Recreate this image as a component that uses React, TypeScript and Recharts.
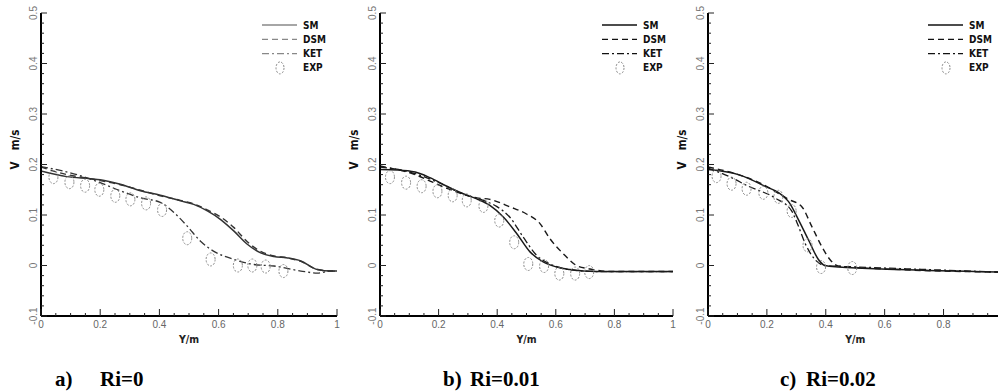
import React from "react";
import { ComposedChart, Line, XAxis, YAxis, Legend } from "recharts";

// ---- values (x = Y/m, v = V in m/s) ----
const smA = [
  { x: 0, v: 0.187 }, { x: 0.087, v: 0.176 }, { x: 0.166, v: 0.172 }, { x: 0.2, v: 0.17 },
  { x: 0.268, v: 0.161 }, { x: 0.336, v: 0.148 }, { x: 0.403, v: 0.139 }, { x: 0.471, v: 0.128 },
  { x: 0.516, v: 0.121 }, { x: 0.562, v: 0.108 }, { x: 0.607, v: 0.091 }, { x: 0.652, v: 0.068 },
  { x: 0.697, v: 0.042 }, { x: 0.742, v: 0.025 }, { x: 0.787, v: 0.018 }, { x: 0.833, v: 0.015 },
  { x: 0.878, v: 0.009 }, { x: 0.934, v: -0.008 }, { x: 0.98, v: -0.011 }, { x: 1, v: -0.011 },
];
const dsmA = [
  { x: 0, v: 0.195 }, { x: 0.087, v: 0.18 }, { x: 0.166, v: 0.172 }, { x: 0.2, v: 0.168 },
  { x: 0.268, v: 0.16 }, { x: 0.336, v: 0.149 }, { x: 0.403, v: 0.138 }, { x: 0.471, v: 0.129 },
  { x: 0.516, v: 0.122 }, { x: 0.562, v: 0.11 }, { x: 0.607, v: 0.096 }, { x: 0.652, v: 0.075 },
  { x: 0.697, v: 0.047 }, { x: 0.742, v: 0.028 }, { x: 0.787, v: 0.019 }, { x: 0.833, v: 0.015 },
  { x: 0.878, v: 0.008 }, { x: 0.934, v: -0.008 }, { x: 0.98, v: -0.011 }, { x: 1, v: -0.011 },
];
const ketA = [
  { x: 0, v: 0.196 }, { x: 0.132, v: 0.178 }, { x: 0.2, v: 0.164 }, { x: 0.268, v: 0.148 },
  { x: 0.336, v: 0.134 }, { x: 0.403, v: 0.125 }, { x: 0.449, v: 0.105 }, { x: 0.494, v: 0.078 },
  { x: 0.539, v: 0.048 }, { x: 0.584, v: 0.028 }, { x: 0.652, v: 0.012 }, { x: 0.72, v: 0.002 },
  { x: 0.787, v: -0.001 }, { x: 0.878, v: -0.011 }, { x: 0.934, v: -0.015 }, { x: 0.98, v: -0.011 },
  { x: 1, v: -0.011 },
];
const expA = [
  { x: 0.042, v: 0.175 }, { x: 0.096, v: 0.165 }, { x: 0.149, v: 0.158 }, { x: 0.197, v: 0.15 },
  { x: 0.251, v: 0.138 }, { x: 0.302, v: 0.131 }, { x: 0.355, v: 0.123 }, { x: 0.409, v: 0.11 },
  { x: 0.494, v: 0.054 }, { x: 0.573, v: 0.012 }, { x: 0.665, v: 0 }, { x: 0.714, v: 0 },
  { x: 0.759, v: -0.002 }, { x: 0.819, v: -0.011 },
];

const smB = [
  { x: 0, v: 0.19 }, { x: 0.06, v: 0.189 }, { x: 0.12, v: 0.185 }, { x: 0.17, v: 0.174 },
  { x: 0.228, v: 0.157 }, { x: 0.284, v: 0.142 }, { x: 0.33, v: 0.132 }, { x: 0.375, v: 0.119 },
  { x: 0.421, v: 0.096 }, { x: 0.467, v: 0.063 }, { x: 0.512, v: 0.027 }, { x: 0.557, v: 0.007 },
  { x: 0.603, v: -0.003 }, { x: 0.648, v: -0.008 }, { x: 0.739, v: -0.012 }, { x: 1, v: -0.012 },
];
const dsmB = [
  { x: 0, v: 0.197 }, { x: 0.06, v: 0.19 }, { x: 0.12, v: 0.18 }, { x: 0.171, v: 0.167 },
  { x: 0.228, v: 0.153 }, { x: 0.284, v: 0.141 }, { x: 0.33, v: 0.134 }, { x: 0.375, v: 0.131 },
  { x: 0.444, v: 0.116 }, { x: 0.5, v: 0.102 }, { x: 0.546, v: 0.083 }, { x: 0.58, v: 0.053 },
  { x: 0.626, v: 0.023 }, { x: 0.671, v: 0 }, { x: 0.717, v: -0.007 }, { x: 0.796, v: -0.012 },
  { x: 1, v: -0.012 },
];
const ketB = [
  { x: 0, v: 0.195 }, { x: 0.102, v: 0.185 }, { x: 0.193, v: 0.166 }, { x: 0.284, v: 0.142 },
  { x: 0.353, v: 0.129 }, { x: 0.398, v: 0.117 }, { x: 0.444, v: 0.095 }, { x: 0.489, v: 0.056 },
  { x: 0.535, v: 0.02 }, { x: 0.58, v: 0.003 }, { x: 0.626, v: -0.006 }, { x: 0.671, v: -0.01 },
  { x: 0.75, v: -0.012 }, { x: 1, v: -0.012 },
];
const expB = [
  { x: 0.034, v: 0.175 }, { x: 0.089, v: 0.164 }, { x: 0.142, v: 0.157 }, { x: 0.196, v: 0.147 },
  { x: 0.248, v: 0.139 }, { x: 0.296, v: 0.129 }, { x: 0.353, v: 0.118 }, { x: 0.407, v: 0.089 },
  { x: 0.458, v: 0.046 }, { x: 0.506, v: 0.003 }, { x: 0.56, v: -0.001 }, { x: 0.612, v: -0.016 },
  { x: 0.666, v: -0.016 }, { x: 0.714, v: -0.013 },
];

const smC = [
  { x: 0, v: 0.19 }, { x: 0.103, v: 0.18 }, { x: 0.182, v: 0.16 }, { x: 0.273, v: 0.127 },
  { x: 0.307, v: 0.091 }, { x: 0.341, v: 0.051 }, { x: 0.375, v: 0.012 }, { x: 0.397, v: 0 },
  { x: 0.442, v: -0.003 }, { x: 0.646, v: -0.008 }, { x: 0.985, v: -0.013 },
];
const dsmC = [
  { x: 0, v: 0.195 }, { x: 0.103, v: 0.18 }, { x: 0.182, v: 0.162 }, { x: 0.273, v: 0.131 },
  { x: 0.318, v: 0.117 }, { x: 0.352, v: 0.078 }, { x: 0.386, v: 0.038 }, { x: 0.414, v: 0.012 },
  { x: 0.442, v: -0.001 }, { x: 0.646, v: -0.008 }, { x: 0.985, v: -0.013 },
];
const ketC = [
  { x: 0, v: 0.193 }, { x: 0.08, v: 0.174 }, { x: 0.137, v: 0.157 }, { x: 0.227, v: 0.134 },
  { x: 0.284, v: 0.108 }, { x: 0.307, v: 0.078 }, { x: 0.329, v: 0.045 }, { x: 0.363, v: 0.012 },
  { x: 0.397, v: 0 }, { x: 0.51, v: -0.003 }, { x: 0.65, v: -0.006 }, { x: 0.985, v: -0.013 },
];
const expC = [
  { x: 0.029, v: 0.177 }, { x: 0.08, v: 0.162 }, { x: 0.131, v: 0.152 }, { x: 0.188, v: 0.144 },
  { x: 0.239, v: 0.136 }, { x: 0.284, v: 0.108 }, { x: 0.338, v: 0.04 }, { x: 0.384, v: -0.003 },
  { x: 0.49, v: -0.005 },
];

const yTicks = [
  -0.1, -0.08, -0.06, -0.04, -0.02, 0, 0.02, 0.04, 0.06, 0.08, 0.1, 0.12, 0.14, 0.16, 0.18, 0.2,
  0.22, 0.24, 0.26, 0.28, 0.3, 0.32, 0.34, 0.36, 0.38, 0.4, 0.42, 0.44, 0.46, 0.48, 0.5,
];
const yMajor = [-0.1, 0, 0.1, 0.2, 0.3, 0.4, 0.5];
const xTicks = [
  0, 0.05, 0.1, 0.15, 0.2, 0.25, 0.3, 0.35, 0.4, 0.45, 0.5, 0.55, 0.6, 0.65, 0.7, 0.75, 0.8,
  0.85, 0.9, 0.95, 1,
];
const xMajor = [0, 0.2, 0.4, 0.6, 0.8, 1];
const seriesNames = ["SM", "DSM", "KET", "EXP"];

const KET_DASH = "7 3 2 3";
const DSM_DASH = "6 4";
const tickFont = "'Liberation Sans', Arial, sans-serif";
const narrowFont = "'Liberation Sans Narrow', 'DejaVu Sans Condensed', sans-serif";

const isMajor = (list: number[], v: number) => list.some((m) => Math.abs(m - v) < 1e-6);
const fmt = (v: number) => String(Math.round(v * 10) / 10);

function YTick(props: any) {
  const { x, y, payload } = props;
  const major = isMajor(yMajor, payload.value);
  const lx = x - 8;
  return (
    <g>
      <line x1={x} x2={x + (major ? 6 : 3)} y1={y} y2={y} stroke="#222" strokeWidth={1} />
      {major && (
        <text
          x={lx}
          y={y}
          transform={`rotate(-90 ${lx} ${y})`}
          textAnchor="middle"
          dominantBaseline="central"
          fontSize={10}
          fontFamily={tickFont}
          fill="#777"
        >
          {fmt(payload.value)}
        </text>
      )}
    </g>
  );
}

function XTick(props: any) {
  const { x, y, payload } = props;
  const major = isMajor(xMajor, payload.value);
  return (
    <g>
      <line x1={x} x2={x} y1={y} y2={y - (major ? 7 : 3)} stroke="#222" strokeWidth={1} />
      {major && (
        <text
          x={x}
          y={y + 8}
          textAnchor="middle"
          dominantBaseline="central"
          fontSize={10}
          fontFamily={tickFont}
          fill="#666"
        >
          {fmt(payload.value)}
        </text>
      )}
    </g>
  );
}

function ExpDot(props: any) {
  const { cx, cy, index } = props;
  if (cx == null || cy == null) return <g key={index} />;
  return (
    <ellipse
      key={index}
      cx={cx}
      cy={cy}
      rx={4.5}
      ry={6.5}
      fill="none"
      stroke="#8a8a8a"
      strokeWidth={1}
      strokeDasharray="2 1.5"
    />
  );
}

function LegendBox({ ink }: { ink: string }) {
  const dashes = [undefined, DSM_DASH, KET_DASH];
  return (
    <svg width={80} height={60}>
      {seriesNames.map((name, i) => {
        const y = 7 + i * 14.3;
        return (
          <g key={name}>
            {i < 3 ? (
              <line x1={0} x2={35} y1={y} y2={y} stroke={ink} strokeWidth={1.3} strokeDasharray={dashes[i]} />
            ) : (
              <ellipse cx={18} cy={y} rx={4} ry={6} fill="none" stroke="#8a8a8a" strokeDasharray="2 1.5" />
            )}
            <text
              x={41}
              y={y}
              dominantBaseline="central"
              fontSize={10}
              fontWeight="bold"
              fontFamily={narrowFont}
              fill="#111"
            >
              {name}
            </text>
          </g>
        );
      })}
    </svg>
  );
}

type Panel = {
  left: number;
  width: number;
  marginLeft: number;
  marginRight: number;
  xMax: number;
  legendLeft: number;
  ink: string;
  legendInk: string;
  sm: { x: number; v: number }[];
  dsm: { x: number; v: number }[];
  ket: { x: number; v: number }[];
  exp: { x: number; v: number }[];
};

const panels: Panel[] = [
  { left: 0, width: 340, marginLeft: 11, marginRight: 3, xMax: 1, legendLeft: 262, ink: "#333", legendInk: "#888", sm: smA, dsm: dsmA, ket: ketA, exp: expA },
  { left: 340, width: 336, marginLeft: 10, marginRight: 3, xMax: 1, legendLeft: 262, ink: "#1a1a1a", legendInk: "#111", sm: smB, dsm: dsmB, ket: ketB, exp: expB },
  { left: 675, width: 323, marginLeft: 3, marginRight: 0, xMax: 0.985, legendLeft: 253, ink: "#1a1a1a", legendInk: "#111", sm: smC, dsm: dsmC, ket: ketC, exp: expC },
];

function PanelChart({ p }: { p: Panel }) {
  const ticks = xTicks.filter((t) => t <= p.xMax + 1e-9);
  return (
    <ComposedChart
      width={p.width}
      height={350}
      margin={{ top: 13, right: p.marginRight, bottom: 4, left: p.marginLeft }}
    >
      <XAxis
        type="number"
        dataKey="x"
        domain={[0, p.xMax]}
        allowDataOverflow
        ticks={ticks}
        interval={0}
        tickSize={0}
        tickMargin={0}
        tickLine={false}
        height={30}
        axisLine={{ stroke: "#000", strokeWidth: 2 }}
        tick={(t: any) => <XTick {...t} />}
        label={{
          content: ({ viewBox }: any) => {
            const cx = viewBox.x + viewBox.width * (0.5 / p.xMax);
            const cy = viewBox.y + 23;
            return (
              <text x={cx} y={cy} textAnchor="middle" dominantBaseline="central" fontSize={10.5} fontWeight="bold" fontFamily={narrowFont} fill="#222">
                Y/m
              </text>
            );
          },
        }}
      />
      <YAxis
        type="number"
        domain={[-0.1, 0.5]}
        ticks={yTicks}
        interval={0}
        tickSize={0}
        tickMargin={0}
        tickLine={false}
        width={30}
        axisLine={{ stroke: "#000", strokeWidth: 2 }}
        tick={(t: any) => <YTick {...t} />}
        label={{
          content: ({ viewBox }: any) => {
            const cx = viewBox.x + viewBox.width - 26;
            const cy = viewBox.y + viewBox.height / 2 - 15;
            return (
              <text
                x={cx}
                y={cy}
                transform={`rotate(-90 ${cx} ${cy})`}
                textAnchor="middle"
                dominantBaseline="central"
                fontSize={11.5}
                fontWeight="bold"
                fontFamily={narrowFont}
                fill="#111"
              >
                <tspan>V</tspan>
                <tspan dx={11}>m/s</tspan>
              </text>
            );
          },
        }}
      />
      <Legend
        layout="vertical"
        align="center"
        verticalAlign="middle"
        wrapperStyle={{ top: 18, left: p.legendLeft, width: 80, height: 60 }}
        content={() => <LegendBox ink={p.legendInk} />}
      />
      <Line data={p.sm} dataKey="v" name="SM" type="monotone" stroke={p.ink} strokeWidth={1.5} dot={false} isAnimationActive={false} />
      <Line data={p.dsm} dataKey="v" name="DSM" type="monotone" stroke={p.ink} strokeWidth={1.4} strokeDasharray={DSM_DASH} dot={false} isAnimationActive={false} />
      <Line data={p.ket} dataKey="v" name="KET" type="monotone" stroke={p.ink} strokeWidth={1.3} strokeDasharray={KET_DASH} dot={false} isAnimationActive={false} />
      <Line data={p.exp} dataKey="v" name="EXP" stroke="none" dot={(d: any) => <ExpDot key={d.index} {...d} />} activeDot={false} isAnimationActive={false} />
    </ComposedChart>
  );
}

const captionStyle: React.CSSProperties = {
  position: "absolute",
  top: 366,
  fontFamily: "'Liberation Serif', 'Times New Roman', serif",
  fontWeight: "bold",
  fontSize: 21,
  lineHeight: "26px",
  color: "#000",
  whiteSpace: "pre",
};

export default function App() {
  return (
    <div style={{ position: "absolute", left: 0, top: 0, width: 998, height: 391, background: "#fff", overflow: "hidden" }}>
      {panels.map((p, i) => (
        <div key={i} style={{ position: "absolute", left: p.left, top: 0 }}>
          <PanelChart p={p} />
        </div>
      ))}
      <div style={{ ...captionStyle, left: 55 }}>a)</div>
      <div style={{ ...captionStyle, left: 100 }}>Ri=0</div>
      <div style={{ ...captionStyle, left: 443 }}>b)</div>
      <div style={{ ...captionStyle, left: 470 }}>Ri=0.01</div>
      <div style={{ ...captionStyle, left: 780 }}>c)</div>
      <div style={{ ...captionStyle, left: 806 }}>Ri=0.02</div>
    </div>
  );
}
